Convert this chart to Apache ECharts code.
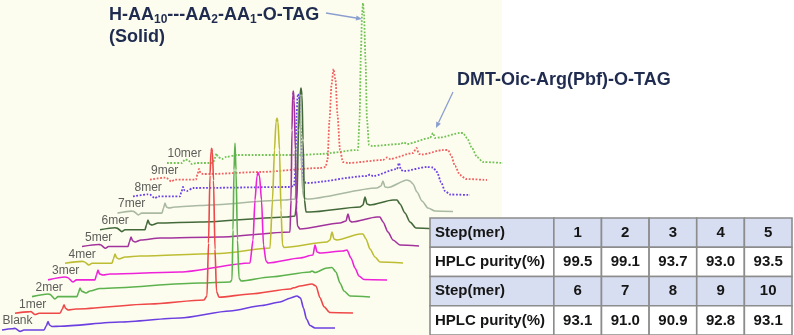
<!DOCTYPE html>
<html>
<head>
<meta charset="utf-8">
<script src="https://cdn.jsdelivr.net/npm/echarts@6/dist/echarts.min.js"></script>
<style>
  html, body { margin: 0; padding: 0; background: #ffffff; }
  #chart { width: 794px; height: 335px; }
</style>
</head>
<body>
<div id="chart"></div>
<script>
// HPLC chromatograms after each elongation step, stacked as a waterfall,
// with the purity table of every step.

const traceNames = ['Blank', '1mer', '2mer', '3mer', '4mer', '5mer', '6mer', '7mer', '8mer', '9mer', '10mer'];

// Each chromatogram: [retention time (min, from the trace origin), signal (mAU, above the trace baseline)]
const blank = [[0,0],[1.0,12],[1.3,16],[1.8,-14],[2.2,0],[4.2,0],[4.45,45],[4.6,85],[4.75,50],[5.0,35],[5.8,38],[11.8,80],[17.8,120],[22.8,190],[26.0,245],[27.8,280],[28.8,318],[29.5,340],[29.85,320],[30.15,220],[30.45,110],[30.8,45],[31.3,20],[33.3,20]];
const mer1 = [[-0.35,0],[0.95,14],[1.25,17],[1.65,-12],[2.05,0],[4.15,0],[4.4,45],[4.55,85],[4.7,50],[4.95,33],[5.75,43],[13.15,93],[18.55,133],[18.85,175],[19.0,700],[19.15,1380],[19.25,1620],[19.32,1650],[19.4,1610],[19.5,1330],[19.65,640],[19.8,220],[20.05,160],[23.15,193],[27.15,243],[27.5,255],[28.15,273],[29.35,293],[29.75,273],[30.15,155],[30.55,65],[31.15,8],[33.45,3]];
const mer2 = [[-0.3,0],[1.3,26],[1.5,22],[2.0,-24],[2.3,0],[4.2,0],[4.35,40],[4.5,86],[4.65,55],[5.1,36],[5.5,56],[6.5,81],[16.5,136],[19.5,146],[19.7,166],[19.8,666],[19.9,1266],[20.0,1536],[20.1,1266],[20.25,566],[20.4,186],[20.6,156],[23.5,196],[27.5,246],[27.7,256],[28.0,241],[29.2,286],[29.7,291],[30.1,246],[30.5,136],[30.9,56],[31.5,6],[33.5,-4]];
const mer3 = [[-0.35,0],[1.35,29],[1.6,24],[2.15,-21],[2.5,0],[4.35,0],[4.5,50],[4.65,99],[4.8,60],[5.15,49],[5.85,59],[12.85,79],[19.85,169],[20.15,399],[20.35,799],[20.55,1039],[20.65,1074],[20.8,1039],[21.0,799],[21.2,349],[21.45,189],[21.65,169],[24.85,219],[26.15,249],[26.35,349],[26.55,279],[26.85,269],[29.15,289],[29.55,299],[29.95,219],[30.35,119],[30.75,39],[31.25,4],[33.55,-1]];
const mer4 = [[-0.3,0],[1.4,18],[1.6,15],[2.1,-18],[2.4,0],[4.4,0],[4.55,45],[4.7,92],[4.85,55],[5.1,42],[5.7,62],[7.2,72],[15.2,97],[20.2,152],[20.45,632],[20.65,1132],[20.8,1412],[20.9,1452],[21.0,1412],[21.15,1132],[21.3,532],[21.45,182],[21.6,157],[25.9,212],[26.2,232],[26.4,312],[26.6,242],[26.9,232],[29.2,292],[29.5,292],[29.8,242],[30.2,142],[30.7,62],[31.2,12],[33.5,2]];
const mer5 = [[-0.25,0],[1.4,20],[1.6,17],[2.1,-18],[2.4,0],[4.35,0],[4.5,48],[4.65,95],[4.8,58],[5.05,45],[5.65,65],[7.55,85],[13.55,95],[20.55,145],[20.65,465],[20.75,1165],[20.82,1515],[20.88,1555],[20.97,1465],[21.08,965],[21.2,365],[21.3,205],[21.55,175],[25.55,235],[26.15,255],[26.35,325],[26.55,255],[26.75,245],[29.25,295],[29.55,295],[29.85,245],[30.35,145],[30.85,65],[31.55,15],[33.45,5]];
const mer6 = [[-0.1,0],[1.4,20],[1.6,17],[2.1,-18],[2.4,0],[4.4,0],[4.55,50],[4.7,98],[4.85,58],[5.1,48],[5.7,68],[9.9,78],[18.6,128],[19.4,138],[19.6,298],[19.75,998],[19.9,1348],[20.0,1418],[20.1,1348],[20.2,898],[20.35,298],[20.5,178],[20.9,178],[25.9,228],[26.2,248],[26.4,328],[26.6,258],[26.9,248],[29.2,298],[29.6,298],[29.9,258],[30.4,168],[30.9,78],[31.5,18],[33.4,8]];
const mer7 = [[0,0],[1.4,20],[1.6,17],[2.1,-18],[2.4,0],[4.45,0],[4.6,50],[4.75,101],[4.9,60],[5.15,51],[5.75,61],[8.25,76],[16.75,131],[17.75,141],[17.9,231],[18.0,731],[18.1,1081],[18.17,1131],[18.25,1051],[18.35,631],[18.5,231],[18.65,151],[18.95,141],[25.95,251],[26.35,271],[26.55,321],[26.75,261],[27.05,256],[28.95,331],[29.25,321],[29.55,291],[29.95,211],[30.45,121],[31.05,51],[31.75,21],[33.55,16]];
const mer8 = [[-0.1,0],[1.4,20],[1.6,17],[2.1,-18],[2.4,0],[4.6,0],[4.75,48],[4.9,94],[5.05,60],[5.3,54],[5.9,84],[15.6,94],[16.0,104],[16.15,264],[16.25,764],[16.35,994],[16.4,1024],[16.5,994],[16.65,714],[16.8,314],[16.95,164],[17.2,134],[23.3,204],[23.6,219],[23.9,204],[26.3,274],[26.5,334],[26.7,264],[27.0,254],[29.3,294],[29.9,289],[30.3,244],[30.7,144],[31.1,54],[31.6,19],[33.6,14]];
const mer9 = [[-0.05,0],[1.4,20],[1.6,17],[2.1,-18],[2.4,0],[4.55,0],[4.7,55],[4.85,107],[5.0,65],[5.25,57],[5.95,57],[10.95,77],[16.95,117],[17.5,127],[17.7,197],[17.9,597],[18.1,947],[18.3,1107],[18.5,997],[18.7,647],[18.95,297],[19.25,177],[19.75,167],[23.25,197],[23.65,222],[23.95,207],[26.25,267],[26.6,317],[26.85,257],[27.15,252],[29.25,297],[29.75,297],[30.05,247],[30.45,137],[30.95,47],[31.55,7],[33.65,-3]];
const mer10 = [[0,0],[1.5,0],[1.8,35],[2.1,30],[2.5,-12],[2.9,0],[4.6,0],[4.8,50],[4.95,95],[5.1,60],[5.5,40],[5.9,60],[7.0,80],[13.3,80],[15.3,90],[19.0,130],[19.1,130],[19.25,430],[19.4,1130],[19.5,1480],[19.6,1600],[19.7,1480],[19.85,1030],[20.0,430],[20.2,180],[20.5,170],[23.3,190],[23.7,205],[24.0,190],[26.3,250],[26.6,300],[26.8,250],[27.3,255],[29.3,300],[29.6,300],[30.0,250],[30.5,150],[31.0,60],[31.6,10],[33.6,0]];

// Purity table
const steps = [1, 2, 3, 4, 5, 6, 7, 8, 9, 10];
const purity = [99.5, 99.1, 93.7, 93.0, 93.5, 93.1, 91.0, 90.9, 92.8, 93.1];

const chromatograms = [blank, mer1, mer2, mer3, mer4, mer5, mer6, mer7, mer8, mer9, mer10];
const traceColors = ['#6c3fe0', '#ee4848', '#5db24e', '#ee22d8', '#bdbd34', '#a2339c', '#43693a', '#a9b9a2', '#6c42e6', '#f06262', '#72c256'];
const dottedTrace = [false, false, false, false, false, false, false, false, true, true, true];

// waterfall shift applied to trace i: i * (SHIFT_T, SHIFT_S) from (ORIGIN_T, ORIGIN_S)
const ORIGIN_T = 0.2, SHIFT_T = 1.65;
const ORIGIN_S = 50, SHIFT_S = 167;

const chart = echarts.init(document.getElementById('chart'), null, { renderer: 'canvas' });

const series = [];
for (let i = chromatograms.length - 1; i >= 0; i--) {
  series.push({
    type: 'line',
    name: traceNames[i],
    xAxisIndex: 0,
    yAxisIndex: 0,
    data: chromatograms[i].map(([t, s]) => [ORIGIN_T + i * SHIFT_T + t, ORIGIN_S + i * SHIFT_S + s]),
    symbol: 'none',
    showSymbol: false,
    smooth: 0.25,
    smoothMonotone: 'x',
    silent: true,
    lineStyle: {
      color: traceColors[i],
      width: dottedTrace[i] ? 1.8 : 1.6,
      type: dottedTrace[i] ? [1.8, 1.6] : 'solid'
    },
    z: 3
  });
}

// trace names at each origin
series.push({
  type: 'scatter',
  xAxisIndex: 0,
  yAxisIndex: 0,
  silent: true,
  symbolSize: 1,
  itemStyle: { color: 'rgba(0,0,0,0)' },
  data: traceNames.map((n, i) => ({ name: n, value: [ORIGIN_T + i * SHIFT_T, ORIGIN_S + i * SHIFT_S] })),
  label: {
    show: true,
    position: 'right',
    distance: 0,
    offset: [0, -9],
    formatter: '{b}',
    fontFamily: '"Liberation Sans Narrow", "Liberation Sans", sans-serif',
    fontSize: 12,
    color: '#333333'
  },
  z: 4
});

// purity table cells
const tableRows = [
  ['Step(mer)'].concat(steps.slice(0, 5).map(String)),
  ['HPLC purity(%)'].concat(purity.slice(0, 5).map(v => v.toFixed(1))),
  ['Step(mer)'].concat(steps.slice(5).map(String)),
  ['HPLC purity(%)'].concat(purity.slice(5).map(v => v.toFixed(1)))
];
const cells = [];
tableRows.forEach((row, r) => row.forEach((txt, c) => cells.push([c, r, txt])));
const HEAD_W = 2.6;

series.push({
  type: 'custom',
  xAxisIndex: 1,
  yAxisIndex: 1,
  silent: true,
  z: 10,
  data: cells.map(d => [d[0], d[1]]),
  renderItem: function (params, api) {
    const c = api.value(0), r = api.value(1);
    const x0 = c === 0 ? 0 : HEAD_W + c - 1;
    const x1 = c === 0 ? HEAD_W : HEAD_W + c;
    const p0 = api.coord([x0, r]);
    const p1 = api.coord([x1, r + 1]);
    return {
      type: 'group',
      children: [
        {
          type: 'rect',
          shape: { x: p0[0], y: p0[1], width: p1[0] - p0[0], height: p1[1] - p0[1] },
          style: { fill: r % 2 === 0 ? '#d8def1' : '#ffffff', stroke: '#8c8c8c', lineWidth: 1.6 }
        },
        {
          type: 'text',
          x: c === 0 ? p0[0] + 5 : (p0[0] + p1[0]) / 2,
          y: (p0[1] + p1[1]) / 2,
          style: {
            text: cells[params.dataIndex][2],
            align: c === 0 ? 'left' : 'center',
            verticalAlign: 'middle',
            font: 'bold 15px "Liberation Sans", Arial, sans-serif',
            fill: '#151515'
          }
        }
      ]
    };
  }
});

function arrow(x1, y1, x2, y2, color) {
  const a = Math.atan2(y2 - y1, x2 - x1);
  const len = 6, half = 2.6;
  const bx = x2 - len * Math.cos(a), by = y2 - len * Math.sin(a);
  return [
    { type: 'line', z: 20, shape: { x1: x1, y1: y1, x2: bx, y2: by }, style: { stroke: color, lineWidth: 1.3 } },
    {
      type: 'polygon', z: 20,
      shape: { points: [[x2, y2], [bx + half * Math.sin(a), by - half * Math.cos(a)], [bx - half * Math.sin(a), by + half * Math.cos(a)]] },
      style: { fill: color }
    }
  ];
}

const navy = '#1f2b4f';
const arrowColor = '#8a9fcf';

chart.setOption({
  animation: false,
  backgroundColor: '#ffffff',
  grid: [
    { left: 0, right: 0, top: 0, bottom: 0 },
    { left: 430, top: 218, width: 362, height: 117 }
  ],
  xAxis: [
    { type: 'value', min: 0, max: 79.4, show: false, gridIndex: 0 },
    { type: 'value', min: 0, max: HEAD_W + 5, show: false, gridIndex: 1 }
  ],
  yAxis: [
    { type: 'value', min: 0, max: 3350, show: false, gridIndex: 0 },
    { type: 'value', min: 0, max: 4, inverse: true, show: false, gridIndex: 1 }
  ],
  graphic: [
    { type: 'rect', z: -10, silent: true, shape: { x: 0, y: 0, width: 502, height: 335 }, style: { fill: '#fdfdef' } },
    {
      type: 'text', z: 20, x: 109, y: 4,
      style: {
        text: '{a|H-AA}{s|10}{a|---AA}{s|2}{a|-AA}{s|1}{a|-O-TAG}\n{a|(Solid)}',
        rich: {
          a: { font: 'bold 18px "Liberation Sans", Arial, sans-serif', fill: navy, lineHeight: 22 },
          s: { font: 'bold 12px "Liberation Sans", Arial, sans-serif', fill: navy, lineHeight: 10, verticalAlign: 'bottom' }
        }
      }
    },
    {
      type: 'text', z: 20, x: 457, y: 71,
      style: { text: 'DMT-Oic-Arg(Pbf)-O-TAG', font: 'bold 18px "Liberation Sans", Arial, sans-serif', fill: navy }
    }
  ].concat(arrow(326, 13, 362, 19, arrowColor)).concat(arrow(453, 92, 436, 128, arrowColor)),
  series: series
});
</script>
</body>
</html>
